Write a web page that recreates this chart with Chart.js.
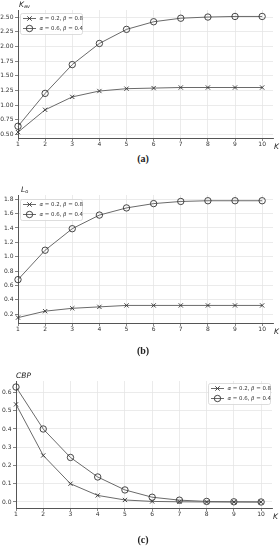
<!DOCTYPE html>
<html>
<head>
<meta charset="utf-8">
<script src="https://cdn.jsdelivr.net/npm/chart.js@4.4.1/dist/chart.umd.min.js"></script>
<style>
  body { margin: 0; background: #fff; width: 280px; height: 550px; position: relative; overflow: hidden; }
  .plot { position: absolute; left: 0; }
  .cap { position: absolute; width: 40px; left: 123px; text-align: center; font: bold 10px "Liberation Serif", "DejaVu Serif", serif; color: #222; }
</style>
</head>
<body>
<canvas id="chartA" class="plot" width="280" height="150" style="top:0px"></canvas>
<canvas id="chartB" class="plot" width="280" height="155" style="top:180px"></canvas>
<canvas id="chartC" class="plot" width="280" height="155" style="top:365px"></canvas>
<div class="cap" style="top:153px">(a)</div>
<div class="cap" style="top:345px">(b)</div>
<div class="cap" style="top:534px">(c)</div>
<script>
// data
const kValues = [1, 2, 3, 4, 5, 6, 7, 8, 9, 10];
const seriesNames = ['α = 0.2, β = 0.8', 'α = 0.6, β = 0.4'];

const kavLow  = [0.54, 0.92, 1.14, 1.24, 1.28, 1.29, 1.30, 1.30, 1.30, 1.30];
const kavHigh = [0.64, 1.20, 1.69, 2.05, 2.29, 2.42, 2.48, 2.50, 2.51, 2.51];

const loLow  = [0.15, 0.24, 0.28, 0.30, 0.32, 0.32, 0.32, 0.32, 0.32, 0.32];
const loHigh = [0.68, 1.09, 1.39, 1.58, 1.68, 1.74, 1.77, 1.78, 1.78, 1.78];

const cbpLow  = [0.535, 0.255, 0.100, 0.036, 0.011, 0.003, 0.001, 0.000, 0.000, 0.000];
const cbpHigh = [0.630, 0.400, 0.244, 0.137, 0.066, 0.026, 0.010, 0.003, 0.001, 0.000];

const xTicks  = [1, 2, 3, 4, 5, 6, 7, 8, 9, 10];
const yTicksA = [0.50, 0.75, 1.00, 1.25, 1.50, 1.75, 2.00, 2.25, 2.50];
const yTicksB = [0.2, 0.4, 0.6, 0.8, 1.0, 1.2, 1.4, 1.6, 1.8];
const yTicksC = [0.0, 0.1, 0.2, 0.3, 0.4, 0.5, 0.6];

const FONT = '"DejaVu Sans", sans-serif';
const LINE = '#6a6a6a';
const MARK = '#333';

function drawMarker(ctx, style, x, y) {
  ctx.save();
  ctx.strokeStyle = MARK;
  ctx.lineWidth = 0.9;
  ctx.beginPath();
  if (style === 'crossRot') {
    const r = 2.2;
    ctx.moveTo(x - r, y - r); ctx.lineTo(x + r, y + r);
    ctx.moveTo(x - r, y + r); ctx.lineTo(x + r, y - r);
  } else {
    ctx.arc(x, y, 3.2, 0, Math.PI * 2);
  }
  ctx.stroke();
  ctx.restore();
}

// legend text with italic greek letters
function drawLegendText(ctx, text, x, y) {
  const parts = text.split(/([αβ])/);
  parts.forEach(p => {
    if (!p) return;
    ctx.font = (/[αβ]/.test(p) ? 'italic ' : '') + '5.4px ' + FONT;
    ctx.fillText(p, x, y);
    x += ctx.measureText(p).width;
  });
}

const extras = {
  id: 'extras',
  afterDraw(chart, args, opts) {
    const ctx = chart.ctx;
    const a = chart.chartArea;
    ctx.save();
    ctx.fillStyle = '#222';
    ctx.textBaseline = 'middle';
    // y axis title
    let x = a.left + opts.yTitleDx;
    ctx.font = 'italic 7.5px ' + FONT;
    ctx.fillText(opts.yTitle, x, a.top - 5);
    if (opts.ySub) {
      x += ctx.measureText(opts.yTitle).width;
      ctx.font = 'italic 5px ' + FONT;
      ctx.fillText(opts.ySub, x, a.top - 3);
    }
    // x axis title
    ctx.font = 'italic 7.5px ' + FONT;
    ctx.fillText('K', a.right + 1, a.bottom + 9);

    // legend box
    const w = 62, h = 21;
    const bx = opts.legendRight ? a.right - 2 - w : a.left + 2;
    const by = a.top + opts.legendDy;
    ctx.fillStyle = 'rgba(255,255,255,0.85)';
    ctx.strokeStyle = '#d4d4d4';
    ctx.lineWidth = 0.8;
    ctx.beginPath();
    ctx.roundRect(bx + 0.5, by + 0.5, w, h, 2);
    ctx.fill();
    ctx.stroke();
    chart.data.datasets.forEach((ds, i) => {
      const ry = by + 5.5 + i * 10;
      ctx.strokeStyle = LINE;
      ctx.lineWidth = 1;
      ctx.beginPath();
      ctx.moveTo(bx + 3, ry);
      ctx.lineTo(bx + 16, ry);
      ctx.stroke();
      drawMarker(ctx, ds.pointStyle, bx + 9.5, ry);
      ctx.fillStyle = '#333';
      drawLegendText(ctx, ds.label, bx + 19.5, ry);
    });
    ctx.restore();
  }
};

function makeChart(id, low, high, yTicks, yMin, yMax, decimals, cfg) {
  const toPts = arr => kValues.map((k, i) => ({ x: k, y: arr[i] }));
  const styles = ['crossRot', 'circle'];
  const datasets = [low, high].map((arr, i) => ({
    label: seriesNames[i],
    data: toPts(arr),
    borderColor: LINE,
    borderWidth: 1,
    pointStyle: styles[i],
    pointRadius: i === 0 ? 3 : 3.2,
    pointBorderColor: MARK,
    pointBorderWidth: 0.9,
    pointBackgroundColor: 'rgba(0,0,0,0)',
    tension: 0,
    clip: false
  }));
  return new Chart(document.getElementById(id), {
    type: 'line',
    data: { datasets },
    options: {
      responsive: false,
      animation: false,
      layout: { padding: { top: cfg.padTop, right: cfg.padRight, left: 0, bottom: 0 } },
      plugins: {
        legend: { display: false },
        tooltip: { enabled: false },
        extras: cfg.extras
      },
      scales: {
        x: {
          type: 'linear',
          min: 1,
          max: 10.4,
          afterFit: s => { s.height = 12; },
          afterBuildTicks: s => { s.ticks = xTicks.map(v => ({ value: v })); },
          ticks: { font: { family: FONT, size: 6 }, color: '#333', padding: 0, maxRotation: 0,
                   callback: v => String(v) },
          grid: { color: '#e6e6e6', lineWidth: 0.8, tickLength: 3, tickColor: '#666' },
          border: { color: '#555', width: 1 }
        },
        y: {
          min: yMin,
          max: yMax,
          afterFit: s => { s.width = cfg.yWidth; },
          afterBuildTicks: s => { s.ticks = yTicks.map(v => ({ value: v })); },
          ticks: { font: { family: FONT, size: 6 }, color: '#333', padding: 1.5,
                   callback: v => Number(v).toFixed(decimals) },
          grid: { color: '#e6e6e6', lineWidth: 0.8, tickLength: 3, tickColor: '#666' },
          border: { color: '#555', width: 1 }
        }
      }
    },
    plugins: [extras]
  });
}

makeChart('chartA', kavLow, kavHigh, yTicksA, 0.44, 2.62, 2, {
  padTop: 10, padRight: 7, yWidth: 18,
  extras: { yTitle: 'K', ySub: 'av', yTitleDx: 1, legendDy: 3, legendRight: false }
});
makeChart('chartB', loLow, loHigh, yTicksB, 0.075, 1.86, 1, {
  padTop: 15, padRight: 7, yWidth: 18,
  extras: { yTitle: 'L', ySub: 'o', yTitleDx: 3, legendDy: 4, legendRight: false }
});
makeChart('chartC', cbpLow, cbpHigh, yTicksC, -0.033, 0.663, 1, {
  padTop: 16, padRight: 8, yWidth: 16,
  extras: { yTitle: 'CBP', ySub: '', yTitleDx: 0, legendDy: 2, legendRight: true }
});
</script>
</body>
</html>
